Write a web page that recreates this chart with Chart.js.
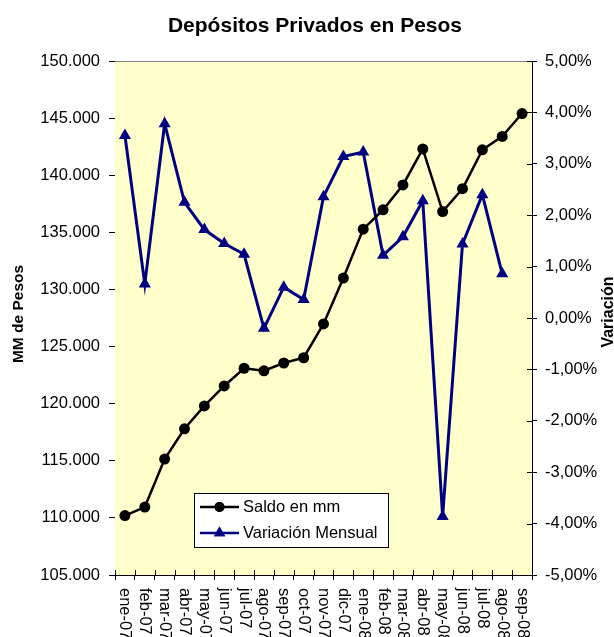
<!DOCTYPE html>
<html>
<head>
<meta charset="utf-8">
<script src="https://cdn.jsdelivr.net/npm/chart.js@4.4.0/dist/chart.umd.min.js"></script>
<style>
  html, body { margin: 0; padding: 0; background: #fff; }
  #wrap { width: 614px; height: 637px; }
</style>
</head>
<body>
<div id="wrap"><canvas id="myChart" width="614" height="637"></canvas></div>
<script>
// datos
let meses = ['ene-07', 'feb-07', 'mar-07', 'abr-07', 'may-07', 'jun-07', 'jul-07', 'ago-07', 'sep-07', 'oct-07', 'nov-07',
  'dic-07', 'ene-08', 'feb-08', 'mar-08', 'abr-08', 'may-08', 'jun-08', 'jul-08', 'ago-08', 'sep-08'];
let saldo = [110200, 110950, 115150, 117800, 119800, 121550, 123100, 122880, 123560, 124020, 126980,
  131000, 135280, 136970, 139150, 142300, 136820, 138820, 142220, 143400, 145400];
let variacion = [3.55, 0.66, 3.78, 2.25, 1.72, 1.45, 1.24, -0.2, 0.6, 0.36, 2.36,
  3.14, 3.23, 1.22, 1.58, 2.28, -3.86, 1.44, 2.4, 0.86, null];
let saldoTicks = [105000, 110000, 115000, 120000, 125000, 130000, 135000, 140000, 145000, 150000];
let variacionTicks = [-5, -4, -3, -2, -1, 0, 1, 2, 3, 4, 5];

const FONT = "'Liberation Sans', Arial, sans-serif";
const NAVY = '#000080';

function formatMiles(v) {
  return String(v).replace(/\B(?=(\d{3})+(?!\d))/g, '.');
}

// fondo, titulos, etiquetas y leyenda
const dibujo = {
  id: 'dibujo',
  beforeDatasetsDraw(chart) {
    const a = chart.chartArea;
    const ctx = chart.ctx;
    ctx.save();
    ctx.fillStyle = '#FFFFCC';
    ctx.fillRect(a.left, a.top, a.right - a.left, a.bottom - a.top);
    ctx.strokeStyle = '#808080';
    ctx.lineWidth = 1;
    ctx.beginPath();
    ctx.moveTo(a.left, a.top + 0.5);
    ctx.lineTo(a.right, a.top + 0.5);
    ctx.stroke();
    ctx.restore();
  },
  afterDraw(chart) {
    const a = chart.chartArea;
    const ctx = chart.ctx;
    const xs = chart.scales.x;
    const y1 = chart.scales.y1;
    ctx.save();

    // marcas que cruzan los ejes
    ctx.strokeStyle = '#000';
    ctx.lineWidth = 1;
    ctx.beginPath();
    for (let i = 0; i <= meses.length; i++) {
      let x = Math.round(xs.left + i * (xs.right - xs.left) / meses.length) + 0.5;
      ctx.moveTo(x, a.bottom - 5);
      ctx.lineTo(x, a.bottom);
    }
    variacionTicks.forEach(v => {
      let y = Math.round(y1.getPixelForValue(v)) + 0.5;
      ctx.moveTo(a.right - 5, y);
      ctx.lineTo(a.right, y);
    });
    ctx.stroke();

    // etiquetas de categorias (giradas)
    ctx.fillStyle = '#000';
    ctx.font = '16.5px ' + FONT;
    ctx.textAlign = 'left';
    ctx.textBaseline = 'middle';
    meses.forEach((m, i) => {
      let x = xs.getPixelForValue(i);
      ctx.save();
      ctx.translate(x, a.bottom + 13);
      ctx.rotate(Math.PI / 2);
      ctx.fillText(m, 0, 0);
      ctx.restore();
    });

    // titulo
    ctx.font = 'bold 21px ' + FONT;
    ctx.textAlign = 'center';
    ctx.fillText('Depósitos Privados en Pesos', 315, 26);

    // titulos de ejes
    ctx.font = 'bold 15.5px ' + FONT;
    ctx.save();
    ctx.translate(19, (a.top + a.bottom) / 2 - 4);
    ctx.rotate(-Math.PI / 2);
    ctx.fillText('MM de Pesos', 0, 0);
    ctx.restore();
    ctx.font = 'bold 16px ' + FONT;
    ctx.save();
    ctx.translate(609, (a.top + a.bottom) / 2 - 6);
    ctx.rotate(-Math.PI / 2);
    ctx.fillText('Variación', 0, 0);
    ctx.restore();

    // leyenda
    let lx = a.left + 79, ly = a.top + 432;
    ctx.fillStyle = '#fff';
    ctx.fillRect(lx, ly, 195, 55);
    ctx.strokeStyle = '#000';
    ctx.lineWidth = 1;
    ctx.strokeRect(lx + 0.5, ly + 0.5, 194, 54);

    let filas = [
      { texto: 'Saldo en mm', color: '#000', forma: 'circle', r: 5, ancho: 2.5 },
      { texto: 'Variación Mensual', color: NAVY, forma: 'triangle', r: 6.5, ancho: 2.5 }
    ];
    filas.forEach((f, i) => {
      let yy = ly + 14 + i * 26;
      ctx.strokeStyle = f.color;
      ctx.lineWidth = f.ancho;
      ctx.beginPath();
      ctx.moveTo(lx + 6, yy);
      ctx.lineTo(lx + 45, yy);
      ctx.stroke();
      ctx.fillStyle = f.color;
      Chart.helpers.drawPoint(ctx, { pointStyle: f.forma, radius: f.r, rotation: 0, borderWidth: 0 }, lx + 25.5, yy);
      ctx.fill();
      ctx.fillStyle = '#000';
      ctx.font = '16.5px ' + FONT;
      ctx.textAlign = 'left';
      ctx.fillText(f.texto, lx + 49, yy);
    });
    ctx.restore();
  }
};

let ctx = document.getElementById('myChart').getContext('2d');

let myChart = new Chart(ctx, {
  type: 'line',
  data: {
    labels: meses,
    datasets: [{
      label: 'Saldo en mm',
      data: saldo,
      yAxisID: 'y',
      borderColor: '#000',
      backgroundColor: '#000',
      borderWidth: 2.5,
      pointStyle: 'circle',
      pointRadius: 5.5,
      pointBorderWidth: 0,
      tension: 0
    }, {
      label: 'Variación Mensual',
      data: variacion,
      yAxisID: 'y1',
      borderColor: NAVY,
      backgroundColor: NAVY,
      borderWidth: 3,
      pointStyle: 'triangle',
      pointRadius: 7,
      pointBorderWidth: 0,
      tension: 0
    }]
  },
  options: {
    responsive: false,
    animation: false,
    layout: { padding: { top: 61, left: 0, right: 0, bottom: 0 }, autoPadding: false },
    plugins: {
      legend: { display: false },
      title: { display: false },
      tooltip: { enabled: false }
    },
    scales: {
      x: {
        type: 'category',
        offset: true,
        afterFit: (s) => { s.height = 62; },
        grid: { offset: true, drawOnChartArea: false, color: '#000', tickLength: 5 },
        border: { color: '#000', width: 1 },
        ticks: { display: false }
      },
      y: {
        position: 'left',
        min: 105000,
        max: 150000,
        afterFit: (s) => { s.width = 115; },
        afterBuildTicks: (s) => { s.ticks = saldoTicks.map(v => ({ value: v })); },
        grid: { drawOnChartArea: false, color: '#000', tickLength: 6 },
        border: { color: '#000', width: 1 },
        ticks: {
          color: '#000',
          padding: 9,
          font: { family: FONT, size: 16.5 },
          callback: (v) => formatMiles(v)
        }
      },
      y1: {
        position: 'right',
        min: -5,
        max: 5,
        afterFit: (s) => { s.width = 82; },
        afterBuildTicks: (s) => { s.ticks = variacionTicks.map(v => ({ value: v })); },
        grid: { drawOnChartArea: false, color: '#000', tickLength: 5 },
        border: { color: '#000', width: 1 },
        ticks: {
          color: '#000',
          padding: 8,
          font: { family: FONT, size: 16.5 },
          callback: (v) => v.toFixed(2).replace('.', ',') + '%'
        }
      }
    }
  },
  plugins: [dibujo]
});
</script>
</body>
</html>
